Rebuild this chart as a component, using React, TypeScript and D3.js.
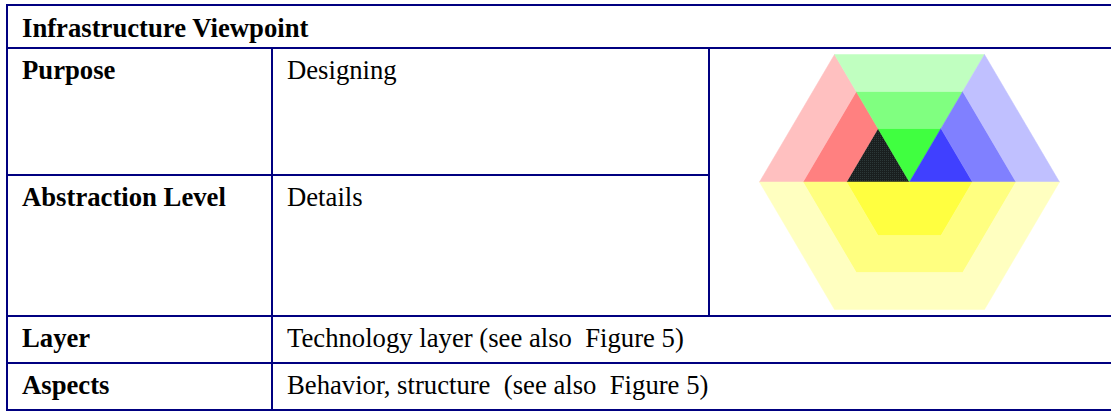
import React from 'react';
import * as d3 from 'd3';

// table content
const title = 'Infrastructure Viewpoint';
const rowLabels = ['Purpose', 'Abstraction Level', 'Layer', 'Aspects'];
const rowValues = ['Designing', 'Details', 'Technology layer (see also  Figure 5)', 'Behavior, structure  (see also  Figure 5)'];

// hexagon: sectors (start/end angle in degrees, clockwise from the right vertex) and ring levels
const sectorNames = ['left', 'top', 'right', 'bottom'];
const sectorSpans = [[180, 240], [240, 300], [300, 360], [0, 180]];
const ringLevels = [1, 2, 3];
const sectorColors = [
  ['url(#darkDots)', '#ff8080', '#ffc0c0'],
  ['#40ff40', '#80ff80', '#c0ffc0'],
  ['#4040ff', '#8080ff', '#c0c0ff'],
  ['#ffff40', '#ffff80', '#ffffc0'],
];

const W = 1111;
const H = 411;
const navy = '#000080';

export default function App() {
  // table grid
  const y = d3.scaleOrdinal<string, number>()
    .domain(['top', 'header', 'Purpose', 'Abstraction Level', 'Layer', 'Aspects'])
    .range([5, 48, 175, 316, 363, 410]);
  const colLeft = 7, colMid = 272, colImg = 709;

  const rowTop = (i: number) => i === 0 ? y('header') : y(rowLabels[i - 1]);

  // hexagon geometry (slightly squashed vertically, like the picture)
  const cx = 909.5, cy = 182;
  const r = d3.scaleLinear().domain([1, 3]).range([63, 150]);
  const ky = 0.85 / Math.sin(Math.PI / 3);
  const pt = (rad: number, deg: number): [number, number] => {
    const a = (deg * Math.PI) / 180;
    return [cx + rad * Math.cos(a), cy + rad * ky * Math.sin(a)];
  };
  const line = d3.line().curve(d3.curveLinearClosed);

  const band = (span: number[], level: number) => {
    const angles = d3.range(span[0], span[1] + 1, 60);
    const outer = angles.map(a => pt(r(level), a));
    const inner = level === 1 ? [[cx, cy] as [number, number]] : angles.slice().reverse().map(a => pt(r(level - 1), a));
    return line([...outer, ...inner]) as string;
  };

  const fullLines = [y('top'), y('header'), y('Abstraction Level'), y('Layer'), y('Aspects')];

  return (
    <svg width={W} height={H} style={{ position: 'absolute', left: 0, top: 0 }}
      fontFamily="'Liberation Serif', 'Times New Roman', serif">
      <defs>
        <pattern id="darkDots" width={2} height={2} patternUnits="userSpaceOnUse">
          <rect width={2} height={2} fill="#1a1f1f" />
          <rect width={1} height={1} fill="#2c3838" />
        </pattern>
      </defs>
      <rect width={W} height={H} fill="#fff" />

      {/* hexagon bands */}
      <g>
        {sectorNames.map((name, si) =>
          ringLevels.map((lv, li) => (
            <path key={name + lv} d={band(sectorSpans[si], lv)} fill={sectorColors[si][li]}
              stroke={sectorColors[si][li]} strokeWidth={0.5} />
          ))
        )}
      </g>

      {/* grid lines */}
      <g stroke={navy} strokeWidth={2}>
        {fullLines.map((v, i) => <line key={i} x1={colLeft - 1} x2={W} y1={v} y2={v} />)}
        <line x1={colLeft - 1} x2={colImg} y1={y('Purpose')} y2={y('Purpose')} />
        <line x1={colLeft} x2={colLeft} y1={y('top')} y2={y('Aspects')} />
        <line x1={colMid} x2={colMid} y1={y('header')} y2={y('Aspects')} />
        <line x1={colImg} x2={colImg} y1={y('header')} y2={y('Abstraction Level')} />
      </g>

      {/* text */}
      <text x={22} y={y('top') + 32} fontSize={26.7} fontWeight="bold" fill="#000">{title}</text>
      {rowLabels.map((lab, i) => (
        <g key={lab}>
          <text x={22} y={rowTop(i) + 31} fontSize={26.7} fontWeight="bold" fill="#000">{lab}</text>
          <text x={287} y={rowTop(i) + 31} fontSize={26.7} fill="#000" style={{ whiteSpace: 'pre' }}>{rowValues[i]}</text>
        </g>
      ))}
    </svg>
  );
}
